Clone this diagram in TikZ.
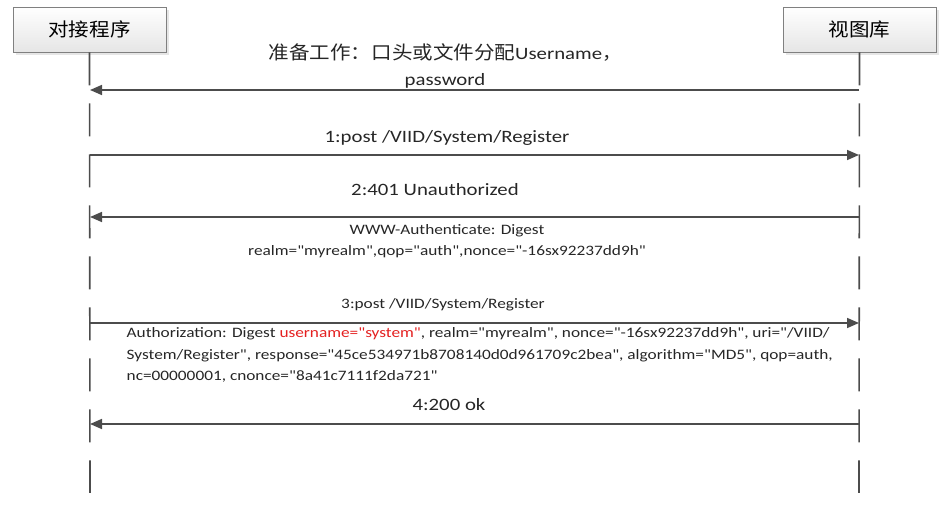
\documentclass[tikz,border=0pt]{standalone}
\usepackage{fontspec}
\setmainfont{Carlito}[FakeStretch=1.2, Ligatures=TeXOff]
\newfontfamily\cjk{Noto Sans CJK SC}[FakeStretch=1.1]
\usetikzlibrary{arrows.meta,shadows}
\definecolor{authred}{RGB}{228,32,32}

\tikzset{
  actor/.style={draw=black!50, top color=white, bottom color=black!10,
    minimum width=114.75pt, minimum height=33.75pt,
    font=\cjk\fontsize{14}{18}\selectfont,
    drop shadow={opacity=0.2,shadow xshift=2pt,shadow yshift=-2pt}},
  life/.style={draw=black!70, line width=1.2pt, dash pattern=on 24.75pt off 13.5pt},
  msg/.style={draw=black!70, line width=1.2pt, -{Triangle[length=9pt,width=7.5pt]}},
  lbl/.style={font=\fontsize{13}{20}\selectfont, text=black!85, align=center},
  note/.style={font=\fontsize{10.8}{16.2}\selectfont, text=black!85},
}

\begin{document}
\begin{tikzpicture}[x=0.75pt,y=-0.75pt]
\useasboundingbox (0,0) rectangle (951,520);

\node[actor] (client) at (89.5,29.5) {对接程序};
\node[actor] (viid) at (859.5,29.5) {视图库};

\coordinate (cend) at (90,493);
\coordinate (vend) at (859,493);
\draw[life] (client.south) -- (cend);
\draw[life] (viid.south) -- (vend);

\foreach \i/\y in {0/90,1/155,2/217,3/323,4/424}{
  \coordinate (c\i) at (90,\y);
  \coordinate (v\i) at (859,\y);
}

\draw[msg] (v0) -- (c0);
\draw[msg] (c1) -- (v1);
\draw[msg] (v2) -- (c2);
\draw[msg] (c3) -- (v3);
\draw[msg] (v4) -- (c4);

\node[lbl] (l0) at (445,66) {{\cjk\fontsize{14}{20}\selectfont 准备工作：口头或文件分配}Username{\cjk ，}\\password};
\node[lbl] (l1) at (447,138) {1:post /VIID/System/Register};
\node[lbl] (l2) at (435,190) {2:401 Unauthorized};
\node[note, align=center] (n2) at (447,241) {WWW-Authenticate: Digest\\realm="myrealm",qop="auth",nonce="-16sx92237dd9h"};
\node[note] (l3) at (443,305) {3:post /VIID/System/Register};
\node[note, align=left, anchor=north west] (n3) at (122,323)
  {Authorization: Digest \textcolor{authred}{username="system"}, realm="myrealm", nonce="-16sx92237dd9h", uri="/VIID/\\
   System/Register", response="45ce534971b8708140d0d961709c2bea", algorithm="MD5", qop=auth,\\
   nc=00000001, cnonce="8a41c7111f2da721"};
\node[lbl] (l4) at (449,405) {4:200 ok};
\end{tikzpicture}
\end{document}
